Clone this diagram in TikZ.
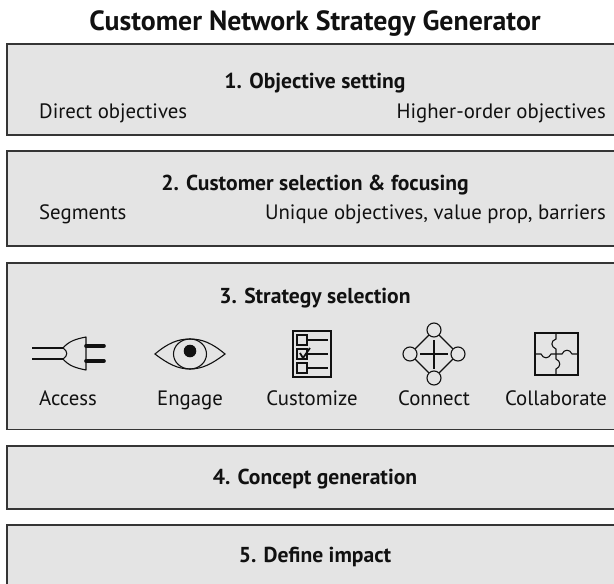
\documentclass[tikz,border=0pt]{standalone}
\usepackage{fontspec}
\setmainfont{PT Sans}
\definecolor{boxfill}{HTML}{E4E4E4}
\definecolor{ink}{HTML}{111111}
\tikzset{
  panel/.style={draw=ink!85,fill=boxfill,line width=1.3pt},
  plainlabel/.style={font=\fontsize{20.8}{22}\selectfont,inner sep=0pt,text=ink,anchor=base},
  headlabel/.style={font=\fontsize{21.6}{23}\selectfont\bfseries,inner sep=0pt,text=ink,anchor=base},
  titlelabel/.style={font=\fontsize{27.8}{30}\selectfont\bfseries,inner sep=0pt,text=ink,anchor=base},
  iconline/.style={draw=ink,line width=1.1pt}
}
\begin{document}
\begin{tikzpicture}[x=1pt,y=-1pt]
\useasboundingbox (0,0) rectangle (614,584);
\fill[white] (0,0) rectangle (614,584);
\begin{scope}
\clip (0,0) rectangle (614,584);
\draw[panel] (7,44) rectangle (625,135);
\draw[panel] (7,151) rectangle (625,246);
\draw[panel] (7,263) rectangle (625,429.5);
\draw[panel] (7,446) rectangle (625,509);
\draw[panel] (7,525) rectangle (625,600);
\end{scope}
\node[titlelabel] (title) at (315,30) {Customer Network Strategy Generator};
\node[headlabel] (h1) at (315,88) {1. Objective setting};
\node[plainlabel,anchor=base west] (d1) at (39,118) {Direct objectives};
\node[plainlabel,anchor=base east] (d2) at (606,118) {Higher-order objectives};
\node[headlabel] (h2) at (315,190) {2. Customer selection \& focusing};
\node[plainlabel,anchor=base west] (s1) at (39,219) {Segments};
\node[plainlabel,anchor=base east] (s2) at (606,219) {Unique objectives, value prop, barriers};
\node[headlabel] (h3) at (315,303) {3. Strategy selection};
\node[plainlabel] (a) at (68,405) {Access};
\node[plainlabel] (e) at (190,405) {Engage};
\node[plainlabel] (c) at (312,405) {Customize};
\node[plainlabel] (n) at (434,405) {Connect};
\node[plainlabel] (k) at (556,405) {Collaborate};
\node[headlabel] (h4) at (315,484) {4. Concept generation};
\node[headlabel] (h5) at (315,562) {5. Define impact};
% plug
\draw[iconline] (32,348) -- (63,348) (32,359) -- (63,359);
\draw[iconline,line join=round] (86,337) .. controls (76,339) and (69,341) .. (63,348)
  .. controls (68,351) and (68,356) .. (63,359)
  .. controls (69,366) and (76,368) .. (86,370) -- cycle;
\draw[ink,line width=3.6pt,line cap=round] (86,346) -- (104,346) (86,361) -- (104,361);
% eye
\draw[iconline] (155,354) .. controls (168,343) and (178,339) .. (190,339)
  .. controls (202,339) and (212,343) .. (225,354)
  .. controls (212,364) and (202,369) .. (190,369)
  .. controls (178,369) and (168,364) .. (155,354) -- cycle;
\draw[iconline] (190,354) ellipse [x radius=16.5pt,y radius=15pt];
\fill[ink] (190,351) circle [radius=6.3pt];
% checklist
\draw[iconline] (293,331) rectangle (331,377);
\draw[iconline] (297,335) rectangle (307,345) (297,349) rectangle (307,359) (297,363) rectangle (307,373);
\draw[iconline] (307,340) -- (328,340) (307,354) -- (328,354) (307,368) -- (328,368);
\draw[ink,line width=1.8pt] (300,353) -- (303,358) -- (310,348);
% connect
\foreach \cx/\cy in {434/330,410/354,458/354,434/378}{\draw[iconline] (\cx,\cy) circle [radius=7pt];}
\draw[iconline] (429,335) -- (415,349) (439,335) -- (453,349) (415,359) -- (429,373) (453,359) -- (439,373);
\draw[iconline] (420,354) -- (448,354) (434,340) -- (434,369);
% puzzle
\draw[iconline] (535,333) rectangle (578,375);
\draw[iconline] (556,333) -- (556,339) .. controls (550,341) and (551,347) .. (556,349) -- (556,359)
  .. controls (561,361) and (561,367) .. (556,369) -- (556,375);
\draw[iconline] (535,354) -- (541,354) .. controls (543,359) and (549,359) .. (551,354) -- (562,354)
  .. controls (564,349) and (570,349) .. (572,354) -- (578,354);
\end{tikzpicture}
\end{document}
